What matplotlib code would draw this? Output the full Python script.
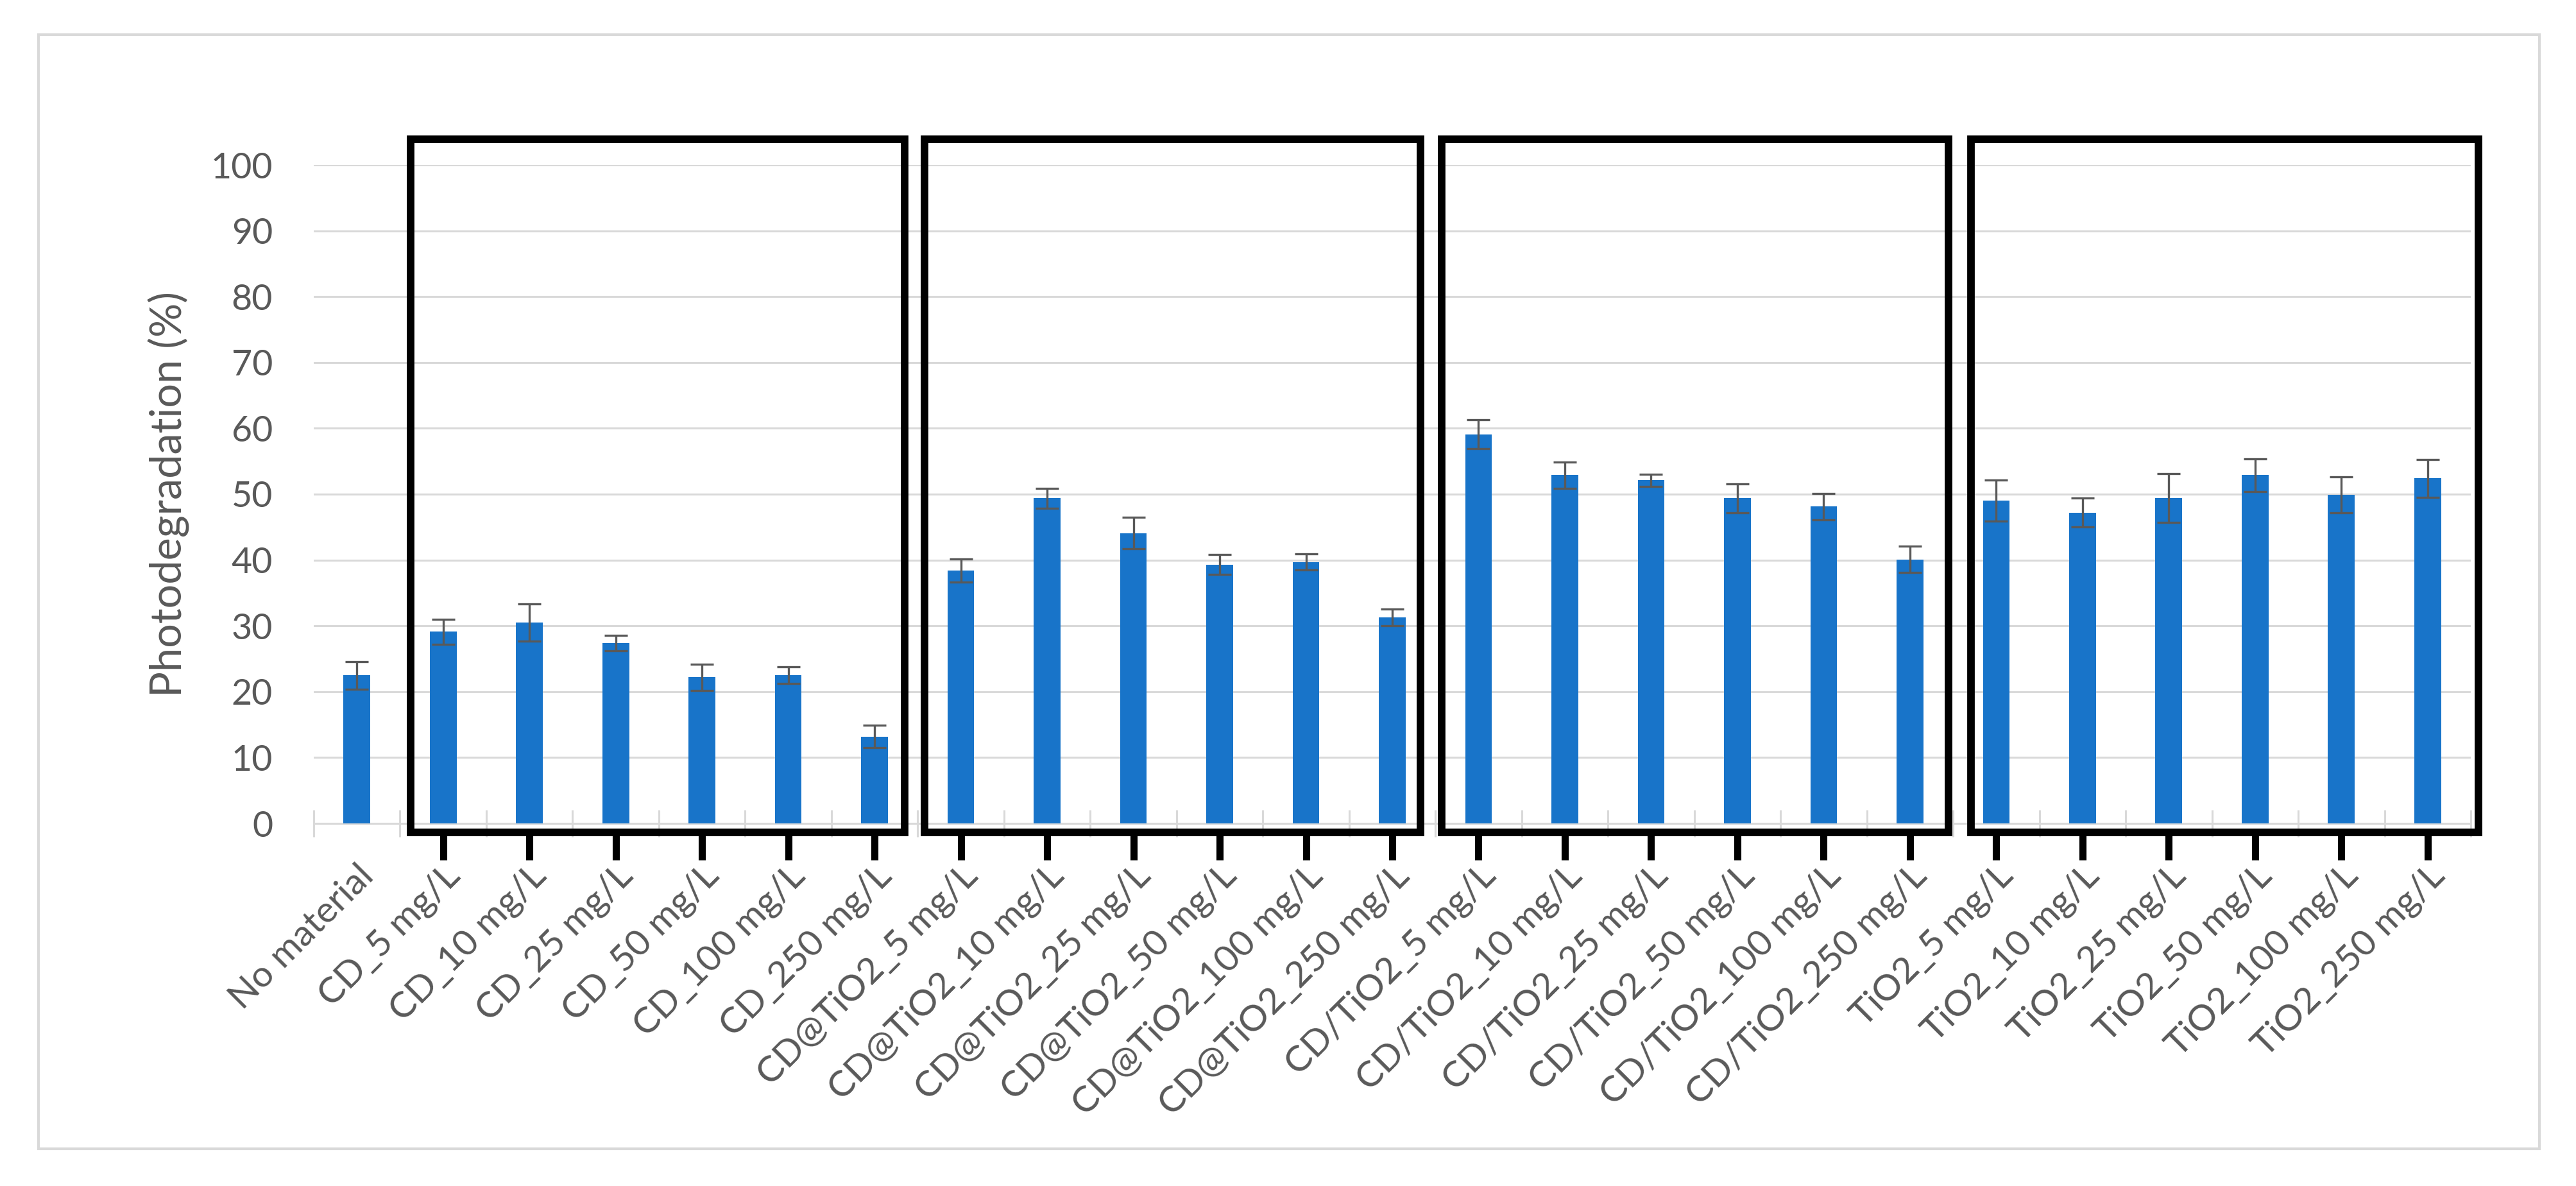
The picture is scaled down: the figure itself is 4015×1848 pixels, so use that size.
import matplotlib
matplotlib.use("Agg")
import matplotlib.pyplot as plt
from matplotlib.patches import Rectangle
import numpy as np

categories = [
    "No material",
    "CD_5 mg/L", "CD_10 mg/L", "CD_25 mg/L", "CD_50 mg/L", "CD_100 mg/L", "CD_250 mg/L",
    "CD@TiO2_5 mg/L", "CD@TiO2_10 mg/L", "CD@TiO2_25 mg/L", "CD@TiO2_50 mg/L", "CD@TiO2_100 mg/L", "CD@TiO2_250 mg/L",
    "CD/TiO2_5 mg/L", "CD/TiO2_10 mg/L", "CD/TiO2_25 mg/L", "CD/TiO2_50 mg/L", "CD/TiO2_100 mg/L", "CD/TiO2_250 mg/L",
    "TiO2_5 mg/L", "TiO2_10 mg/L", "TiO2_25 mg/L", "TiO2_50 mg/L", "TiO2_100 mg/L", "TiO2_250 mg/L",
]
values = [
    22.5,
    29.1, 30.5, 27.4, 22.2, 22.5, 13.2,
    38.4, 49.4, 44.1, 39.3, 39.7, 31.3,
    59.1, 52.9, 52.1, 49.4, 48.1, 40.1,
    49.0, 47.2, 49.4, 52.9, 49.9, 52.4,
]
errors = [
    2.1,
    1.9, 2.8, 1.2, 2.0, 1.3, 1.7,
    1.8, 1.5, 2.4, 1.5, 1.2, 1.3,
    2.2, 2.0, 0.9, 2.2, 2.0, 2.0,
    3.1, 2.2, 3.7, 2.5, 2.7, 2.9,
]
y_ticks = [0, 10, 20, 30, 40, 50, 60, 70, 80, 90, 100]
y_label = "Photodegradation (%)"
# group boxes: (first category index, last category index)
groups = [(1, 6), (7, 12), (13, 18), (19, 24)]

FONT = ["Lato", "DejaVu Sans"]
plt.rcParams["font.family"] = FONT
GRAY_TXT = "#595959"
GRID = "#D9D9D9"
BAR = "#1874C9"

W, H = 4015, 1848
fig = plt.figure(figsize=(W / 100, H / 100), dpi=100)
ax = fig.add_axes([489 / W, 1 - 1283 / H, (3851 - 489) / W, (1283 - 257) / H])

x = np.arange(len(categories))
ax.bar(x, values, width=0.31, color=BAR, zorder=3)
ax.errorbar(x, values, yerr=errors, fmt="none", ecolor=GRAY_TXT, elinewidth=2.4,
            capsize=13, capthick=2.4, zorder=4)

ax.set_xlim(-0.5, len(categories) - 0.5)
ax.set_ylim(0, 100)
ax.set_yticks(y_ticks)
ax.set_yticklabels([str(t) for t in y_ticks], fontsize=40, color=GRAY_TXT)
ax.tick_params(axis="y", length=0, pad=46)
ax.yaxis.grid(True, color=GRID, linewidth=2.2, zorder=0)
ax.set_axisbelow(True)

ax.set_xticks(x)
ax.set_xticklabels(categories, rotation=45, ha="right", va="top", rotation_mode="anchor",
                   fontsize=41, color=GRAY_TXT)
ax.tick_params(axis="x", which="major", length=0, pad=40)
ax.set_xticks(np.arange(-0.5, len(categories), 1.0), minor=True)
ax.tick_params(axis="x", which="minor", direction="inout", length=30, width=2.2, color=GRID)

for s in ["top", "right", "left"]:
    ax.spines[s].set_visible(False)
ax.spines["bottom"].set_color(GRID)
ax.spines["bottom"].set_linewidth(2.2)

ax.set_ylabel(y_label, fontsize=48, color=GRAY_TXT)
ax.yaxis.set_label_coords(-0.0575, 0.5)

# black group boxes and ticks
box_bounds = [(0.62, 6.35), (6.58, 12.33), (12.57, 18.45), (18.71, 24.59)]
y0, y1 = -1.36, 103.9
for (a, b), (i0, i1) in zip(box_bounds, groups):
    ax.add_patch(Rectangle((a, y0), b - a, y1 - y0, fill=False, edgecolor="black",
                           linewidth=8.5, clip_on=False, zorder=6))
    for i in range(i0, i1 + 1):
        ax.plot([i, i], [y0, -5.6], color="black", linewidth=8, clip_on=False,
                zorder=6, solid_capstyle="butt")

# outer chart border
fig.patches.append(Rectangle((60 / W, 1 - 1790 / H), (3958 - 60) / W, (1790 - 54) / H,
                             transform=fig.transFigure, fill=False, edgecolor=GRID,
                             linewidth=3))

fig.savefig("out.png", dpi=100, facecolor="white")
